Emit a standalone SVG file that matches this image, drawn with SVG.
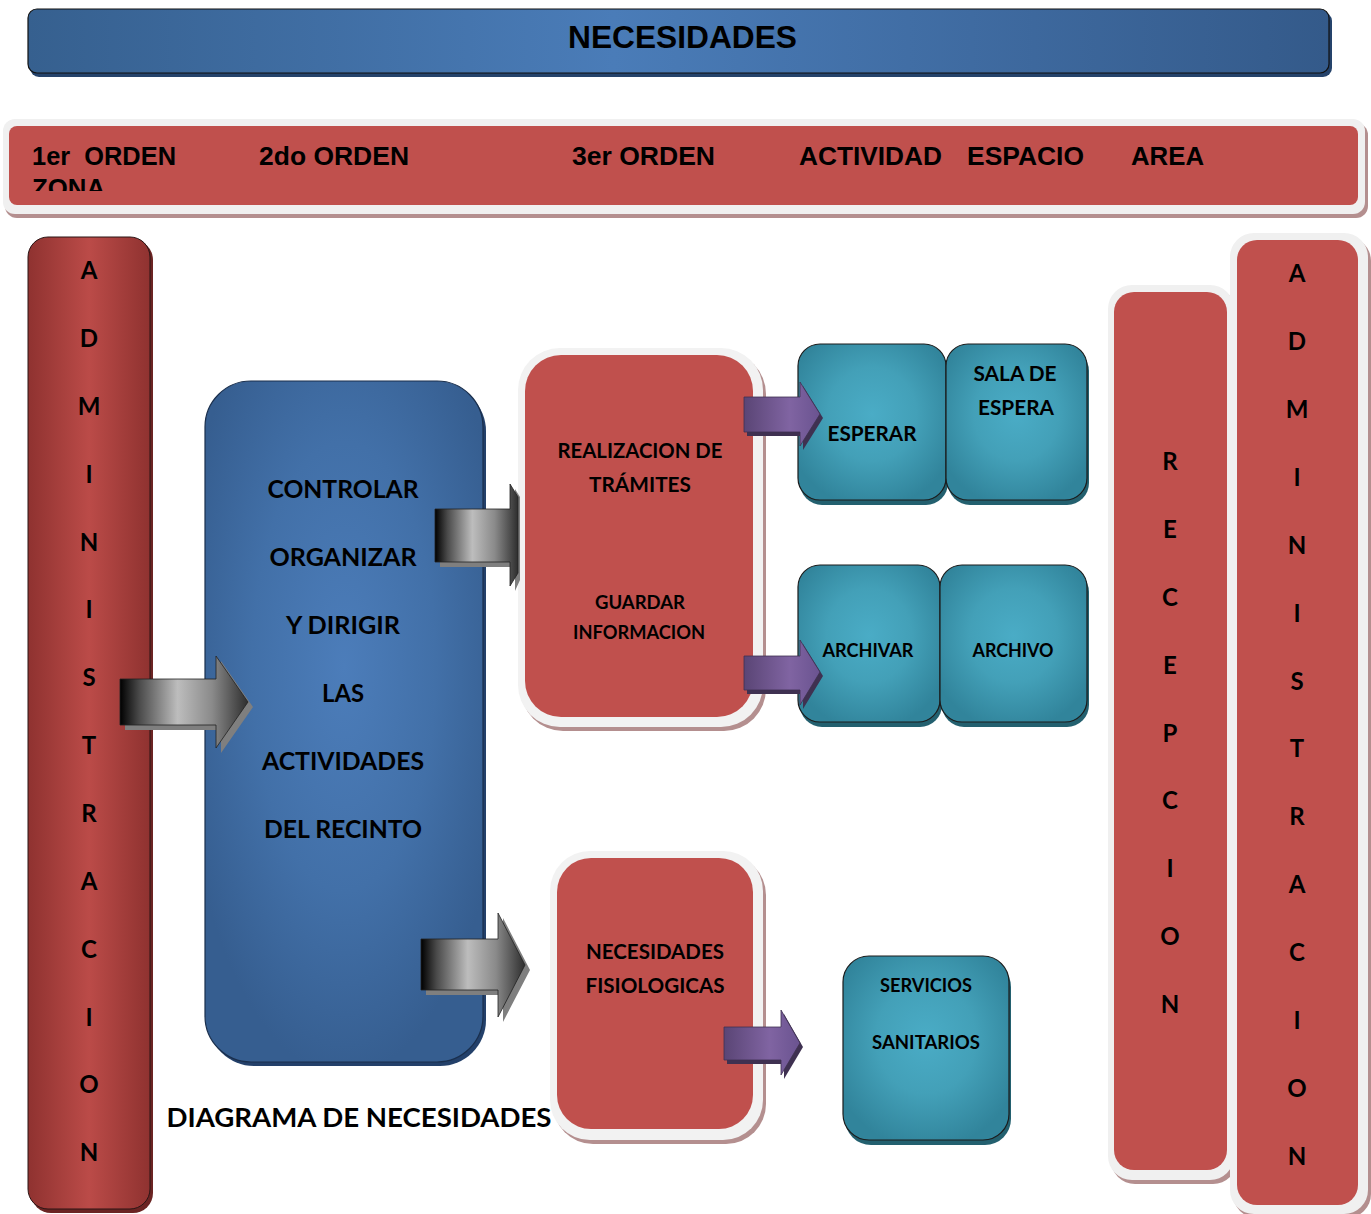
<svg xmlns="http://www.w3.org/2000/svg" width="1371" height="1214" viewBox="0 0 1371 1214">
<defs>
<linearGradient id="gBar" x1="0" y1="0" x2="1" y2="0">
<stop offset="0" stop-color="#36608f"/><stop offset="0.45" stop-color="#4a7cb8"/><stop offset="1" stop-color="#345a8a"/>
</linearGradient>
<radialGradient id="gBlue" cx="0.5" cy="0.42" r="0.6">
<stop offset="0" stop-color="#4c7dba"/><stop offset="0.55" stop-color="#4270a8"/><stop offset="1" stop-color="#365e90"/>
</radialGradient>
<linearGradient id="gRedCol" x1="0" y1="0" x2="1" y2="0">
<stop offset="0" stop-color="#8f3230"/><stop offset="0.5" stop-color="#bb4b48"/><stop offset="1" stop-color="#8f3230"/>
</linearGradient>
<radialGradient id="gTeal" cx="0.5" cy="0.45" r="0.6">
<stop offset="0" stop-color="#4aacc6"/><stop offset="0.5" stop-color="#43a0b8"/><stop offset="1" stop-color="#31849b"/>
</radialGradient>
<linearGradient id="gPurple" x1="0" y1="0" x2="1" y2="0">
<stop offset="0" stop-color="#5a4575"/><stop offset="0.6" stop-color="#8064a2"/><stop offset="1" stop-color="#6a5390"/>
</linearGradient>
<linearGradient id="gGray" x1="0" y1="0" x2="1" y2="0">
<stop offset="0" stop-color="#000"/><stop offset="0.15" stop-color="#4a4a4a"/><stop offset="0.45" stop-color="#bdbdbd"/><stop offset="0.72" stop-color="#8a8a8a"/><stop offset="1" stop-color="#2e2e2e"/>
</linearGradient>
<clipPath id="hdrClip"><rect x="9" y="126" width="1349" height="65"/></clipPath>
</defs>
<style>
.hdr{font-family:"Liberation Sans Narrow","Liberation Sans",Arial,sans-serif;font-weight:bold;font-size:26px;fill:#000;white-space:pre}
.t{font-family:Lato,"Open Sans","Liberation Sans",sans-serif;font-weight:bold;fill:#000;text-anchor:middle}
.col{font-size:24px}
.big{font-size:25px}
.mid{font-size:20px}
.sm{font-size:18px}
.teal{fill:url(#gTeal);stroke:#1c1c1c;stroke-width:1.2}
.tealSh{fill:#23606f}
.redIn{fill:#c0504d}
.redOut{fill:#f2f2f2}
.redSh{fill:#b48f8f}
.gray{fill:url(#gGray);stroke:#222;stroke-width:0.8}
.graySh{fill:#7f7f7f}
.purp{fill:url(#gPurple);stroke:#3f3151;stroke-width:0.8}
.purpSh{fill:#3f3151}
</style>

<g id="title">
<rect x="30" y="12" width="1302" height="65" rx="9" fill="#25436b"/>
<rect x="28" y="9" width="1301" height="64" rx="9" fill="url(#gBar)" stroke="#111" stroke-width="1.2"/>
<text class="hdr" x="568" y="48" style="font-size:32px" textLength="229" lengthAdjust="spacingAndGlyphs">NECESIDADES</text>
</g>

<g id="header">
<rect x="5" y="123" width="1363" height="95" rx="12" fill="#b48f8f"/>
<rect x="3" y="119" width="1362" height="95" rx="12" fill="#f0f0f0"/>
<rect x="9" y="126" width="1349" height="79" rx="8" fill="#c0504d"/>
<text class="hdr" x="32" y="165" xml:space="preserve" textLength="144" lengthAdjust="spacingAndGlyphs">1er  ORDEN</text>
<text class="hdr" x="32" y="197" clip-path="url(#hdrClip)" textLength="73" lengthAdjust="spacingAndGlyphs">ZONA</text>
<text class="hdr" x="259" y="165" textLength="150" lengthAdjust="spacingAndGlyphs">2do ORDEN</text>
<text class="hdr" x="572" y="165" textLength="143" lengthAdjust="spacingAndGlyphs">3er ORDEN</text>
<text class="hdr" x="799" y="165" textLength="143" lengthAdjust="spacingAndGlyphs">ACTIVIDAD</text>
<text class="hdr" x="967" y="165" textLength="117" lengthAdjust="spacingAndGlyphs">ESPACIO</text>
<text class="hdr" x="1131" y="165" textLength="73" lengthAdjust="spacingAndGlyphs">AREA</text>
</g>

<g id="zona-admin-left">
<rect x="31" y="240" width="122" height="973" rx="20" fill="#6b2423"/>
<rect x="28" y="237" width="122" height="972" rx="20" fill="url(#gRedCol)" stroke="#2a1515" stroke-width="1"/>
<g class="t col">
<text x="89" y="279">A</text><text x="89" y="347">D</text><text x="89" y="415">M</text><text x="89" y="483">I</text><text x="89" y="551">N</text><text x="89" y="618">I</text><text x="89" y="686">S</text><text x="89" y="754">T</text><text x="89" y="822">R</text><text x="89" y="890">A</text><text x="89" y="958">C</text><text x="89" y="1026">I</text><text x="89" y="1093">O</text><text x="89" y="1161">N</text>
</g>
</g>

<g id="orden1">
<rect x="208" y="385" width="278" height="681" rx="46" fill="#23406a"/>
<rect x="205" y="381" width="278" height="681" rx="46" fill="url(#gBlue)" stroke="#1a2f4d" stroke-width="1.2"/>
<g class="t big">
<text x="343" y="498" textLength="151" lengthAdjust="spacingAndGlyphs">CONTROLAR</text>
<text x="343" y="566" textLength="147" lengthAdjust="spacingAndGlyphs">ORGANIZAR</text>
<text x="343" y="634" textLength="114" lengthAdjust="spacingAndGlyphs">Y DIRIGIR</text>
<text x="343" y="702" textLength="42" lengthAdjust="spacingAndGlyphs">LAS</text>
<text x="343" y="770" textLength="162" lengthAdjust="spacingAndGlyphs">ACTIVIDADES</text>
<text x="343" y="838" textLength="158" lengthAdjust="spacingAndGlyphs">DEL RECINTO</text>
</g>
</g>

<g id="orden2-tramites">
<rect x="521" y="352" width="245" height="379" rx="42" class="redSh"/>
<rect x="518" y="348" width="245" height="379" rx="42" class="redOut"/>
<rect x="525" y="355" width="228" height="362" rx="36" class="redIn"/>
<g class="t mid">
<text x="640" y="458" textLength="165" lengthAdjust="spacingAndGlyphs">REALIZACION DE</text>
<text x="640" y="492" textLength="102" lengthAdjust="spacingAndGlyphs">TRÁMITES</text>
</g>
<g class="t sm">
<text x="640" y="609" textLength="90" lengthAdjust="spacingAndGlyphs">GUARDAR</text>
<text x="639" y="639" textLength="132" lengthAdjust="spacingAndGlyphs">INFORMACION</text>
</g>
</g>

<g id="orden2-fisiologicas">
<rect x="553" y="855" width="213" height="289" rx="40" class="redSh"/>
<rect x="550" y="851" width="213" height="289" rx="40" class="redOut"/>
<rect x="557" y="858" width="196" height="271" rx="34" class="redIn"/>
<g class="t mid">
<text x="655" y="959" textLength="138" lengthAdjust="spacingAndGlyphs">NECESIDADES</text>
<text x="655" y="993" textLength="139" lengthAdjust="spacingAndGlyphs">FISIOLOGICAS</text>
</g>
</g>

<g id="esperar">
<rect x="800" y="349" width="148" height="156" rx="22" class="tealSh"/>
<rect x="798" y="344" width="148" height="156" rx="22" class="teal"/>
<text class="t mid" x="872" y="441" textLength="89" lengthAdjust="spacingAndGlyphs">ESPERAR</text>
</g>
<g id="sala-de-espera">
<rect x="948" y="349" width="141" height="156" rx="22" class="tealSh"/>
<rect x="946" y="344" width="141" height="156" rx="22" class="teal"/>
<g class="t mid">
<text x="1015" y="381" textLength="83" lengthAdjust="spacingAndGlyphs">SALA DE</text>
<text x="1016" y="415" textLength="76" lengthAdjust="spacingAndGlyphs">ESPERA</text>
</g>
</g>
<g id="archivar">
<rect x="800" y="570" width="142" height="157" rx="22" class="tealSh"/>
<rect x="798" y="565" width="142" height="157" rx="22" class="teal"/>
<text class="t sm" x="868" y="657" textLength="91" lengthAdjust="spacingAndGlyphs">ARCHIVAR</text>
</g>
<g id="archivo">
<rect x="942" y="570" width="147" height="157" rx="22" class="tealSh"/>
<rect x="940" y="565" width="147" height="157" rx="22" class="teal"/>
<text class="t sm" x="1013" y="657" textLength="81" lengthAdjust="spacingAndGlyphs">ARCHIVO</text>
</g>
<g id="servicios-sanitarios">
<rect x="845" y="961" width="166" height="184" rx="26" class="tealSh"/>
<rect x="843" y="956" width="166" height="184" rx="26" class="teal"/>
<g class="t sm">
<text x="926" y="992" textLength="92" lengthAdjust="spacingAndGlyphs">SERVICIOS</text>
<text x="926" y="1049" textLength="108" lengthAdjust="spacingAndGlyphs">SANITARIOS</text>
</g>
</g>

<g id="area-recepcion">
<rect x="1111" y="289" width="126" height="895" rx="24" fill="#b48f8f"/>
<rect x="1108" y="285" width="126" height="895" rx="24" fill="#f0f0f0"/>
<rect x="1114" y="292" width="113" height="878" rx="20" fill="#c0504d"/>
<g class="t col">
<text x="1170" y="470">R</text><text x="1170" y="538">E</text><text x="1170" y="606">C</text><text x="1170" y="674">E</text><text x="1170" y="742">P</text><text x="1170" y="809">C</text><text x="1170" y="877">I</text><text x="1170" y="945">O</text><text x="1170" y="1013">N</text>
</g>
</g>

<g id="area-admin-right">
<rect x="1233" y="237" width="138" height="981" rx="24" fill="#b48f8f"/>
<rect x="1230" y="233" width="138" height="981" rx="24" fill="#f0f0f0"/>
<rect x="1237" y="240" width="121" height="965" rx="20" fill="#c0504d"/>
<g class="t col">
<text x="1297" y="282">A</text><text x="1297" y="350">D</text><text x="1297" y="418">M</text><text x="1297" y="486">I</text><text x="1297" y="554">N</text><text x="1297" y="622">I</text><text x="1297" y="690">S</text><text x="1297" y="757">T</text><text x="1297" y="825">R</text><text x="1297" y="893">A</text><text x="1297" y="961">C</text><text x="1297" y="1029">I</text><text x="1297" y="1097">O</text><text x="1297" y="1165">N</text>
</g>
</g>

<g id="connectors">
<path class="graySh" d="M125,684 H221 V661 L253,707 L221,753 V730 H125 Z"/>
<path class="gray" d="M120,679 H216 V656 L248,702 L216,748 V725 H120 Z"/>
<path class="graySh" d="M440,514 H515 V489 L520,497 V580 L515,591 V567 H440 Z"/>
<path class="gray" d="M435,509 H510 V484 L518,497 V573 L510,586 V562 H435 Z"/>
<path class="graySh" d="M426,944 H503 V918 L530,970 L503,1022 V995 H426 Z"/>
<path class="gray" d="M421,939 H498 V913 L525,965 L498,1017 V990 H421 Z"/>
<path class="purpSh" d="M747,401 H803 V386 L823,418 L803,450 V436 H747 Z"/>
<path class="purp" d="M744,397 H800 V382 L820,414 L800,446 V432 H744 Z"/>
<path class="purpSh" d="M747,660 H803 V644 L823,676 L803,709 V694 H747 Z"/>
<path class="purp" d="M744,656 H800 V640 L820,672 L800,705 V690 H744 Z"/>
<path class="purpSh" d="M727,1031 H784 V1014 L803,1047 L784,1079 V1064 H727 Z"/>
<path class="purp" d="M724,1027 H781 V1010 L800,1043 L781,1075 V1060 H724 Z"/>
</g>

<text class="t" x="359" y="1127" style="font-size:27px" textLength="385" lengthAdjust="spacingAndGlyphs">DIAGRAMA DE NECESIDADES</text>
</svg>
